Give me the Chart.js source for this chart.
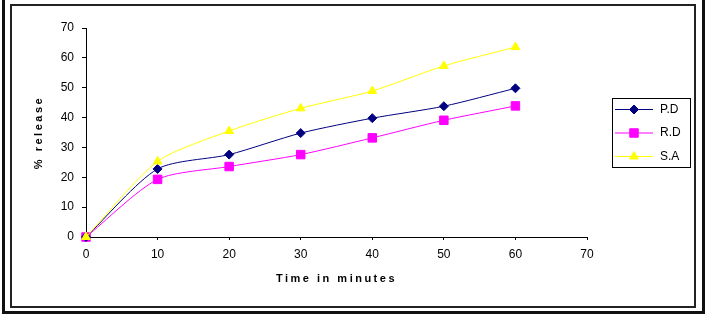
<!DOCTYPE html>
<html>
<head>
<meta charset="utf-8">
<script src="https://cdn.jsdelivr.net/npm/chart.js@4"></script>
<style>
html, body { margin: 0; padding: 0; background: #fff; }
#wrap { position: relative; width: 714px; height: 318px; overflow: hidden; }
#outer { position: absolute; left: 2px; top: -4px; width: 703px; height: 318px; border: 3px solid #111; box-sizing: border-box; }
#inner { position: absolute; left: 10px; top: 4px; width: 686px; height: 304px; border: 2px solid #222; box-sizing: border-box; }
#chart { position: absolute; left: 0; top: 0; }
</style>
</head>
<body>
<div id="wrap">
  <div id="outer"></div>
  <div id="inner"></div>
  <canvas id="chart" width="714" height="318"></canvas>
</div>
<script>
const minutes = [0, 10, 20, 30, 40, 50, 60];
const pdRelease = [0, 22.8, 27.6, 34.8, 39.8, 43.8, 49.8];
const rdRelease = [0, 19.3, 23.6, 27.6, 33.2, 39.1, 43.9];
const saRelease = [0, 25.3, 35.5, 43.1, 48.9, 57.3, 63.6];
const seriesNames = ['P.D', 'R.D', 'S.A'];

const FONT = "'Liberation Sans', Arial, sans-serif";

const points = values => minutes.map((m, i) => ({ x: m, y: values[i] }));

const datasets = [
    { label: seriesNames[0], data: points(pdRelease), borderColor: '#000080', backgroundColor: '#000080', pointStyle: 'rectRot', pointRadius: 4.5, order: 1 },
    { label: seriesNames[1], data: points(rdRelease), borderColor: '#FF00FF', backgroundColor: '#FF00FF', pointStyle: 'rect', pointRadius: 6, order: 2 },
    { label: seriesNames[2], data: points(saRelease), borderColor: '#FFFF00', backgroundColor: '#FFFF00', pointStyle: 'triangle', pointRadius: 5, order: 0 },
].map(ds => Object.assign(ds, {
    borderWidth: 1,
    pointBorderWidth: 1,
    pointHoverRadius: ds.pointRadius,
    tension: 0.25,
    clip: false,
}));

function drawMarker(ctx, style, x, y, r) {
    ctx.beginPath();
    if (style === 'rect') {
        const s = Math.SQRT1_2 * r;
        ctx.rect(x - s, y - s, 2 * s, 2 * s);
    } else if (style === 'rectRot') {
        ctx.moveTo(x, y - r); ctx.lineTo(x + r, y); ctx.lineTo(x, y + r); ctx.lineTo(x - r, y);
        ctx.closePath();
    } else {
        ctx.moveTo(x, y - r);
        ctx.lineTo(x + r * 0.866, y + r * 0.5);
        ctx.lineTo(x - r * 0.866, y + r * 0.5);
        ctx.closePath();
    }
    ctx.fill();
    ctx.stroke();
}

// legend box and spaced-out axis titles
const extras = {
    id: 'extras',
    afterDraw(chart) {
        const ctx = chart.ctx;
        const area = chart.chartArea;
        ctx.save();

        ctx.fillStyle = '#000';
        ctx.font = 'bold 11px ' + FONT;
        ctx.letterSpacing = '2.5px';
        ctx.textAlign = 'center';
        ctx.textBaseline = 'middle';
        ctx.fillText('Time in minutes', (area.left + area.right) / 2, 279);
        ctx.translate(39, (area.top + area.bottom) / 2);
        ctx.rotate(-Math.PI / 2);
        ctx.fillText('% release', 0, 0);
        ctx.restore();

        ctx.save();
        ctx.strokeStyle = '#000';
        ctx.lineWidth = 1;
        ctx.strokeRect(612.5, 98.5, 78, 69);
        ctx.font = '12px ' + FONT;
        ctx.textBaseline = 'middle';
        chart.data.datasets.forEach((ds, i) => {
            const y = 109.5 + i * 23.5;
            ctx.strokeStyle = ds.borderColor;
            ctx.fillStyle = ds.backgroundColor;
            ctx.beginPath();
            ctx.moveTo(615, y); ctx.lineTo(653, y);
            ctx.stroke();
            drawMarker(ctx, ds.pointStyle, 634, y, ds.pointRadius);
            ctx.fillStyle = '#000';
            ctx.fillText(ds.label, 660, y);
        });
        ctx.restore();
    }
};

new Chart(document.getElementById('chart'), {
    type: 'line',
    data: { datasets },
    plugins: [extras],
    options: {
        responsive: false,
        animation: false,
        events: [],
        layout: { padding: { left: 0, top: 28, right: 127, bottom: 0 } },
        plugins: { legend: { display: false }, tooltip: { enabled: false } },
        scales: {
            x: {
                type: 'linear',
                min: 0,
                max: 70,
                afterFit: scale => { scale.height = 81; },
                ticks: { stepSize: 10, color: '#000', padding: 7, font: { family: FONT, size: 12 } },
                grid: { drawOnChartArea: false, tickLength: 3, color: '#000' },
                border: { color: '#000' },
            },
            y: {
                min: 0,
                max: 70,
                afterFit: scale => { scale.width = 86; },
                ticks: { stepSize: 10, color: '#000', padding: 8, font: { family: FONT, size: 12 } },
                grid: { drawOnChartArea: false, tickLength: 4, color: '#000' },
                border: { color: '#000' },
            },
        },
    },
});
</script>
</body>
</html>
